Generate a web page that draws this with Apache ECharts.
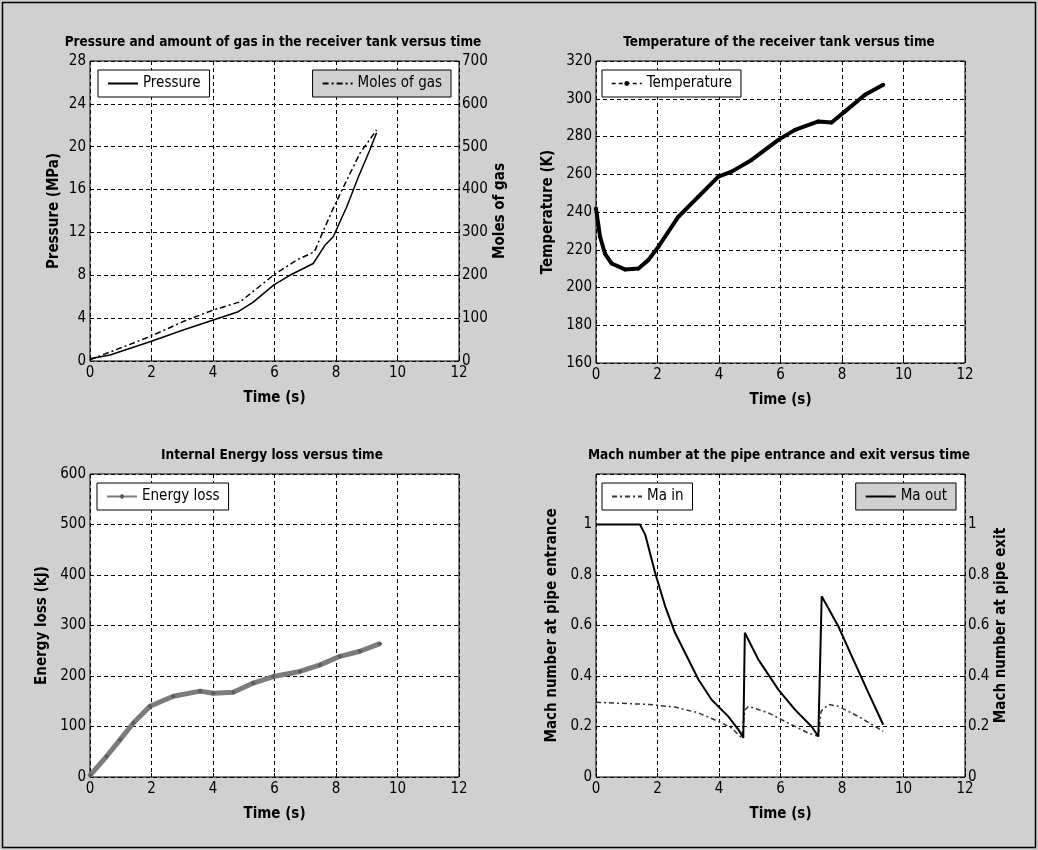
<!DOCTYPE html>
<html>
<head>
<meta charset="utf-8">
<script src="https://cdn.jsdelivr.net/npm/echarts@6/dist/echarts.min.js"></script>
<style>
html,body{margin:0;padding:0;background:#d0d0d0;}
#c{width:1038px;height:850px;}
</style>
</head>
<body>
<div id="c"></div>
<script>
// ---- Data ----
const timeTicks = [0, 2, 4, 6, 8, 10, 12];

const tPressure = [0, 0.65, 1.95, 3.03, 4.01, 4.82, 5.31, 5.98, 6.5, 7.26, 7.64, 7.91, 8.35, 8.73, 9.1, 9.32];
const pressure  = [0.2, 0.56, 1.8, 2.9, 3.83, 4.6, 5.5, 7.1, 8.0, 9.1, 10.8, 11.6, 14.4, 17.2, 19.7, 21.3];

const tMoles = [0, 1.95, 3.03, 4.01, 4.88, 5.98, 6.73, 7.3, 7.6, 7.91, 8.35, 8.78, 9.32];
const moles  = [3, 57, 92, 119, 138, 201, 236, 255, 306, 356, 422, 485, 539];

const tTemp = [0, 0.13, 0.29, 0.51, 0.94, 1.38, 1.7, 2.03, 2.68, 3.33, 3.98, 4.41, 5.06, 5.93, 6.47, 7.23, 7.66, 8.1, 8.75, 9.34];
const temperature = [242, 227, 218, 212.7, 209.6, 210.1, 214.5, 221.6, 237.5, 248.1, 258.7, 261.4, 267.6, 278.2, 283.5, 288, 287.4, 293.3, 302.1, 307.4];

const tEnergy = [0, 0.54, 0.98, 1.41, 1.95, 2.71, 3.58, 4.01, 4.66, 5.31, 5.96, 6.83, 7.48, 8.13, 8.78, 9.43];
const energyLoss = [3, 41, 74, 107, 140, 160, 170, 166, 168, 186, 199, 209, 222, 239, 249, 264];

const tMaOut = [0, 1.43, 1.6, 1.92, 2.25, 2.57, 2.9, 3.33, 3.76, 4.3, 4.63, 4.79, 4.84, 5.28, 5.93, 6.47, 7.01, 7.23, 7.34, 7.88, 8.32, 8.86, 9.34];
const maOut  = [1, 1, 0.96, 0.81, 0.676, 0.571, 0.491, 0.386, 0.306, 0.24, 0.188, 0.155, 0.571, 0.465, 0.346, 0.267, 0.2, 0.161, 0.716, 0.597, 0.478, 0.333, 0.207];

const tMaIn = [0, 1.75, 2.57, 3.33, 3.98, 4.41, 4.74, 4.84, 4.96, 5.6, 6.36, 6.9, 7.23, 7.32, 7.56, 7.88, 8.53, 9.34];
const maIn  = [0.296, 0.287, 0.277, 0.254, 0.22, 0.194, 0.155, 0.265, 0.28, 0.254, 0.207, 0.174, 0.161, 0.26, 0.287, 0.28, 0.24, 0.181];

const titles = [
  'Pressure and amount of gas in the receiver tank versus time',
  'Temperature of the receiver tank versus time',
  'Internal Energy loss versus time',
  'Mach number at the pipe entrance and exit versus time'
];

// ---- helpers ----
const zip = (a, b) => a.map((v, i) => [v, b[i]]);
const FONT = "'Liberation Sans Narrow','Arial Narrow','DejaVu Sans Condensed',sans-serif";
const BG = '#d0d0d0';

const grids = [
  {left: 90, top: 61, width: 369, height: 300},
  {left: 596, top: 61, width: 369, height: 302},
  {left: 90, top: 474, width: 369, height: 303},
  {left: 596, top: 474, width: 369, height: 303}
];

const gridLine = {show: true, lineStyle: {color: '#000', type: [4, 3], width: 1}};
const noGridLine = {show: false};
const labelStyle = {color: '#000', fontFamily: FONT, fontSize: 15};
const nameStyle = {color: '#000', fontFamily: FONT, fontSize: 15, fontWeight: 'bold'};

function xAxis(gi) {
  return {
    type: 'value', gridIndex: gi, min: 0, max: 12, interval: 2,
    axisLine: {show: false}, axisTick: {show: true, inside: true, length: 4, lineStyle: {color: '#000'}},
    axisLabel: Object.assign({margin: 5}, labelStyle),
    splitLine: gridLine,
    name: 'Time (s)', nameLocation: 'middle', nameGap: 30, nameTextStyle: nameStyle
  };
}
function yAxis(gi, o) {
  return Object.assign({
    type: 'value', gridIndex: gi,
    axisLine: {show: false}, axisTick: {show: true, inside: true, length: 4, lineStyle: {color: '#000'}},
    axisLabel: Object.assign({margin: 4}, labelStyle),
    nameLocation: 'middle', nameTextStyle: nameStyle
  }, o);
}
const machFmt = v => (v > 1.05 ? '' : String(+v.toFixed(1)));

const legendBase = {
  orient: 'vertical', borderColor: '#000', borderWidth: 1,
  padding: [6, 9, 6, 9], itemWidth: 30, itemHeight: 10,
  textStyle: {color: '#000', fontFamily: FONT, fontSize: 15},
  selectedMode: false
};
const hideSym = {opacity: 0};

const option = {
  backgroundColor: BG,
  animation: false,
  grid: grids.map(g => Object.assign({show: true, backgroundColor: '#fff', borderColor: '#000', borderWidth: 1, containLabel: false}, g)),
  xAxis: [xAxis(0), xAxis(1), xAxis(2), xAxis(3)],
  yAxis: [
    yAxis(0, {min: 0, max: 28, interval: 4, splitLine: gridLine, name: 'Pressure (MPa)', nameGap: 28}),
    yAxis(0, {min: 0, max: 700, interval: 100, position: 'right', splitLine: noGridLine, name: 'Moles of gas', nameGap: 34,
      axisLabel: Object.assign({margin: 3}, labelStyle)}),
    yAxis(1, {min: 160, max: 320, interval: 20, splitLine: gridLine, name: 'Temperature (K)', nameGap: 40}),
    yAxis(2, {min: 0, max: 600, interval: 100, splitLine: gridLine, name: 'Energy loss (kJ)', nameGap: 40}),
    yAxis(3, {min: 0, max: 1.2, interval: 0.2, splitLine: gridLine, name: 'Mach number at pipe entrance', nameGap: 36,
      axisLabel: Object.assign({margin: 4, formatter: machFmt}, labelStyle)}),
    yAxis(3, {min: 0, max: 1.2, interval: 0.2, position: 'right', splitLine: noGridLine, name: 'Mach number at pipe exit', nameGap: 26,
      axisLabel: Object.assign({margin: 3, formatter: machFmt}, labelStyle)})
  ],
  legend: [
    Object.assign({}, legendBase, {left: 98, top: 70, backgroundColor: '#fff', itemStyle: hideSym, data: ['Pressure']}),
    Object.assign({}, legendBase, {right: 587, top: 70, backgroundColor: BG, itemStyle: hideSym, data: ['Moles of gas']}),
    Object.assign({}, legendBase, {left: 602, top: 70, backgroundColor: '#fff', itemHeight: 6,
      data: [{name: 'Temperature', lineStyle: {type: [4, 3], width: 1.5}}]}),
    Object.assign({}, legendBase, {left: 97, top: 483, backgroundColor: '#fff', itemHeight: 7,
      data: [{name: 'Energy loss', lineStyle: {width: 2}}]}),
    Object.assign({}, legendBase, {left: 602, top: 483, backgroundColor: '#fff', itemStyle: hideSym, data: ['Ma in']}),
    Object.assign({}, legendBase, {right: 82, top: 483, backgroundColor: BG, itemStyle: hideSym, data: ['Ma out']})
  ],
  graphic: [
    {type: 'rect', shape: {x: 2.5, y: 2.5, width: 1033, height: 845}, style: {fill: 'none', stroke: '#000', lineWidth: 1.5}, silent: true},
    {type: 'text', x: 273, y: 42, style: {text: titles[0], textAlign: 'center', textVerticalAlign: 'middle', font: "bold 13.5px " + FONT, fill: '#000'}},
    {type: 'text', x: 779, y: 42, style: {text: titles[1], textAlign: 'center', textVerticalAlign: 'middle', font: "bold 13.5px " + FONT, fill: '#000'}},
    {type: 'text', x: 272, y: 455, style: {text: titles[2], textAlign: 'center', textVerticalAlign: 'middle', font: "bold 13.5px " + FONT, fill: '#000'}},
    {type: 'text', x: 779, y: 455, style: {text: titles[3], textAlign: 'center', textVerticalAlign: 'middle', font: "bold 13.5px " + FONT, fill: '#000'}}
  ],
  series: [
    {name: 'Pressure', type: 'line', xAxisIndex: 0, yAxisIndex: 0, data: zip(tPressure, pressure),
      symbol: 'none', lineStyle: {color: '#000', width: 1.5}, itemStyle: {color: '#000'}},
    {name: 'Moles of gas', type: 'line', xAxisIndex: 0, yAxisIndex: 1, data: zip(tMoles, moles),
      symbol: 'none', lineStyle: {color: '#000', width: 1.5, type: [6, 3, 2, 3]}, itemStyle: {color: '#000'}},
    {name: 'Temperature', type: 'line', xAxisIndex: 1, yAxisIndex: 2, data: zip(tTemp, temperature),
      symbol: 'circle', symbolSize: 4, lineStyle: {color: '#000', width: 4}, itemStyle: {color: '#000'}},
    {name: 'Energy loss', type: 'line', xAxisIndex: 2, yAxisIndex: 3, data: zip(tEnergy, energyLoss),
      symbol: 'diamond', symbolSize: 5, lineStyle: {color: '#7c7c7c', width: 5}, itemStyle: {color: '#5a5a5a'}},
    {name: 'Ma in', type: 'line', xAxisIndex: 3, yAxisIndex: 4, data: zip(tMaIn, maIn),
      symbol: 'none', lineStyle: {color: '#333', width: 1.5, type: [5, 3, 2, 3]}, itemStyle: {color: '#333'}},
    {name: 'Ma out', type: 'line', xAxisIndex: 3, yAxisIndex: 5, data: zip(tMaOut, maOut),
      symbol: 'none', lineStyle: {color: '#000', width: 2}, itemStyle: {color: '#000'}}
  ]
};

const chart = echarts.init(document.getElementById('c'), null, {renderer: 'canvas'});
chart.setOption(option);
</script>
</body>
</html>
